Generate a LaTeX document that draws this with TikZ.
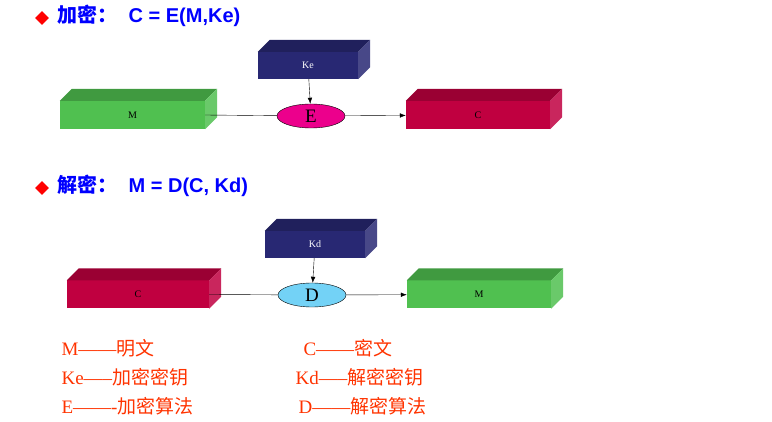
\documentclass[tikz,border=0pt]{standalone}
\usepackage{fontspec}
\setmainfont{Liberation Serif}
\setsansfont{Liberation Sans}
\newfontfamily\cjk{Noto Sans CJK SC}
\usetikzlibrary{arrows.meta,positioning,shapes.geometric}
\definecolor{mgreen}{RGB}{80,192,80}
\definecolor{mred}{RGB}{192,0,64}
\definecolor{mblue}{RGB}{40,40,115}
\definecolor{mlegend}{RGB}{255,51,0}
\tikzset{
  box/.style={minimum height=28pt,inner sep=0pt,font=\fontsize{19}{19}\selectfont},
  alg/.style={ellipse,draw,minimum width=68pt,minimum height=24pt,inner sep=0pt,font=\fontsize{19}{19}\selectfont},
  title/.style={anchor=west,text=blue,font=\sffamily\bfseries\fontsize{20}{20}\selectfont},
  legend/.style={anchor=west,text=mlegend,font=\fontsize{19}{19}\selectfont},
}
% cuboid: front node, then top and right faces
\newcommand{\cube}[3]{%
  \fill[#2!80!black] (#1.north west) -- ++(12pt,12pt) -- ([shift={(12pt,12pt)}]#1.north east) -- (#1.north east) -- cycle;
  \fill[#2!85!white] (#1.north east) -- ++(12pt,12pt) -- ([shift={(12pt,12pt)}]#1.south east) -- (#1.south east) -- cycle;
  \node at (#1.center) {#3};
}
\begin{document}
\begin{tikzpicture}[x=1pt,y=1pt]
  \useasboundingbox (0,0) rectangle (772,-422);

  % encryption
  \node[diamond,fill=red,inner sep=3.5pt] (d1) at (42,-18) {};
  \node[title] (t1) at (54,-16) {{\cjk 加密：} \ C = E(M,Ke)};
  \node[box,fill=mgreen,minimum width=145pt] (m1) at (132.5,-115) {};
  \cube{m1}{mgreen}{M}
  \node[box,fill=mblue,minimum width=100pt,minimum height=27pt] (ke) at (308,-65.5) {};
  \cube{ke}{mblue}{\textcolor{white}{Ke}}
  \node[alg,fill=magenta] (e) at (311,-116) {E};
  \node[box,fill=mred,minimum width=144pt] (c1) at (478,-115) {};
  \cube{c1}{mred}{C}
  \draw (m1.east) -- (e);
  \draw[-{Latex[length=6pt]}] (e) -- (c1);
  \draw[-{Latex[length=6pt]}] (ke) -- (e);

  % decryption
  \node[diamond,fill=red,inner sep=3.5pt] (d2) at (42,-188) {};
  \node[title] (t2) at (54,-186) {{\cjk 解密：} \ M = D(C, Kd)};
  \node[box,fill=mred,minimum width=142pt] (c2) at (138,-294.5) {};
  \cube{c2}{mred}{C}
  \node[box,fill=mblue,minimum width=100pt,minimum height=27pt] (kd) at (315,-244.5) {};
  \cube{kd}{mblue}{\textcolor{white}{Kd}}
  \node[alg,fill=cyan!55] (dd) at (312,-295) {D};
  \node[box,fill=mgreen,minimum width=144pt] (m2) at (479,-294.5) {};
  \cube{m2}{mgreen}{M}
  \draw (c2.east) -- (dd);
  \draw[-{Latex[length=6pt]}] (dd) -- (m2);
  \draw[-{Latex[length=6pt]}] (kd) -- (dd);

  % legend
  \node[legend] (l1) at (58,-348) {M------{\cjk 明文}};
  \node[legend] (l2) at (58,-377) {Ke-----{\cjk 加密密钥}};
  \node[legend] (l3) at (58,-406) {E-------{\cjk 加密算法}};
  \node[legend] (r1) at (300,-348) {C------{\cjk 密文}};
  \node[legend] (r2) at (292,-377) {Kd-----{\cjk 解密密钥}};
  \node[legend] (r3) at (295,-406) {D------{\cjk 解密算法}};
\end{tikzpicture}
\end{document}
